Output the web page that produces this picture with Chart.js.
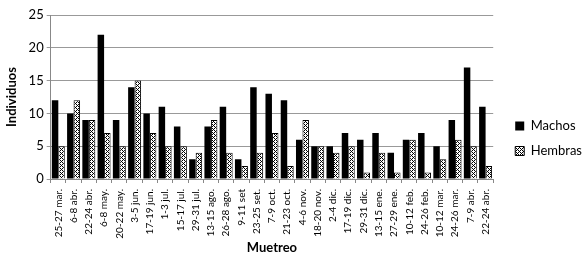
<!DOCTYPE html>
<html>
<head>
<meta charset="utf-8">
<script src="https://cdn.jsdelivr.net/npm/chart.js@4"></script>
<style>
  html, body { margin: 0; padding: 0; background: #fff; }
  #wrap { width: 582px; height: 257px; }
</style>
</head>
<body>
<div id="wrap"><canvas id="muestreoChart" width="582" height="257"></canvas></div>
<script>
const categorias = ["25-27 mar.", "6-8 abr.", "22-24 abr.", "6-8 may.", "20-22 may.", "3-5 jun.",
  "17-19 jun.", "1-3 jul.", "15-17 jul.", "29-31 jul.", "13-15 ago.", "26-28 ago.", "9-11 set",
  "23-25 set.", "7-9 oct.", "21-23 oct.", "4-6 nov.", "18-20 nov.", "2-4 dic.", "17-19 dic.",
  "29-31 dic.", "13-15 ene.", "27-29 ene.", "10-12 feb.", "24-26 feb.", "10-12 mar.",
  "24-26 mar.", "7-9 abr.", "22-24 abr."];
const machos = [12, 10, 9, 22, 9, 14, 10, 11, 8, 3, 8, 11, 3, 14, 13, 12, 6, 5, 5, 7, 6, 7, 4, 6, 7, 5, 9, 17, 11];
const hembras = [5, 12, 9, 7, 5, 15, 7, 5, 5, 4, 9, 4, 2, 4, 7, 2, 9, 5, 4, 5, 1, 4, 1, 6, 1, 3, 6, 5, 2];
const yMax = 25;
const yStep = 5;

function hatch() {
  const c = document.createElement("canvas");
  c.width = 4; c.height = 4;
  const x = c.getContext("2d");
  x.fillStyle = "#fff";
  x.fillRect(0, 0, 4, 4);
  x.fillStyle = "#000";
  x.fillRect(0, 0, 1, 1);
  x.fillRect(2, 0, 1, 1);
  x.fillRect(1, 1, 1, 1);
  x.fillRect(2, 2, 1, 1);
  x.fillRect(0, 2, 1, 1);
  x.fillRect(3, 3, 1, 1);
  return x.createPattern(c, "repeat");
}

// push the legend a little right and down, as in the original
const legendShift = {
  id: "legendShift",
  beforeDraw(chart) {
    const lg = chart.legend;
    if (lg && !lg._shifted) {
      lg.left += 10;
      lg.right += 10;
      lg.top += 3;
      lg.bottom += 3;
      lg._shifted = true;
    }
  }
};

const font = "Lato, 'Liberation Sans', sans-serif";

new Chart(document.getElementById("muestreoChart"), {
  type: "bar",
  data: {
    labels: categorias,
    datasets: [{
      label: "Machos",
      data: machos,
      backgroundColor: "#000",
      borderColor: "#000",
      borderWidth: 0
    }, {
      label: "Hembras",
      data: hembras,
      backgroundColor: hatch(),
      borderColor: "#000",
      borderWidth: 1
    }]
  },
  options: {
    responsive: false,
    animation: false,
    devicePixelRatio: 1,
    layout: { padding: { top: 15, right: 0, bottom: 1, left: 0 } },
    datasets: { bar: { categoryPercentage: 0.85, barPercentage: 1 } },
    plugins: {
      tooltip: { enabled: false },
      legend: {
        position: "right",
        labels: {
          boxWidth: 9, boxHeight: 9, padding: 12,
          color: "#000",
          font: { family: font, size: 13 }
        }
      }
    },
    scales: {
      x: {
        offset: true,
        afterFit(scale) { scale.height = 77; },
        grid: { display: true, drawOnChartArea: false, drawTicks: true, tickLength: 4, color: "#888", offset: true },
        border: { color: "#888" },
        ticks: {
          color: "#000", autoSkip: false, minRotation: 90, maxRotation: 90, padding: 6,
          font: { family: font, size: 10 }
        },
        title: { display: true, text: "Muetreo", color: "#000", font: { family: font, size: 13, weight: "bold" }, padding: { top: 0, bottom: 0 } }
      },
      y: {
        min: 0, max: yMax,
        grid: { color: "#999", tickLength: 4 },
        border: { color: "#888" },
        ticks: { stepSize: yStep, color: "#000", padding: 3, font: { family: font, size: 13 } },
        title: { display: true, text: "Individuos", color: "#000", font: { family: font, size: 13, weight: "bold" }, padding: { top: 4, bottom: 6 } }
      }
    }
  },
  plugins: [legendShift]
});
</script>
</body>
</html>
